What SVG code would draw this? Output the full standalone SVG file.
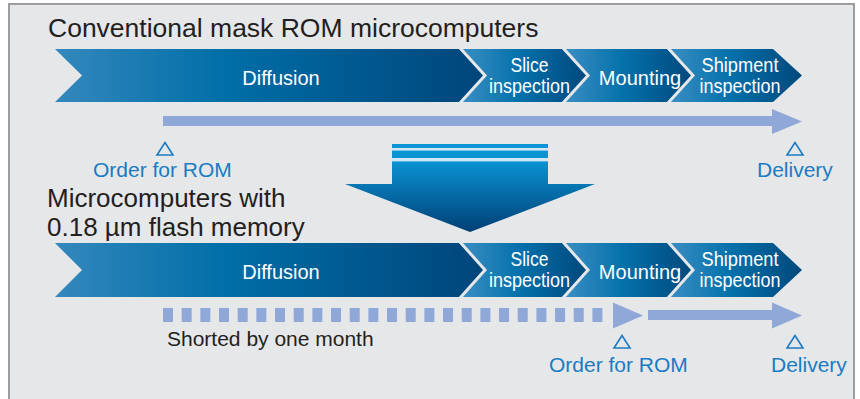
<svg xmlns="http://www.w3.org/2000/svg" width="860" height="399" viewBox="0 0 860 399">
  <defs>
    <linearGradient id="gDiff" x1="0" y1="0" x2="1" y2="0">
      <stop offset="0" stop-color="#3488bd"/>
      <stop offset="0.4" stop-color="#006ea7"/>
      <stop offset="1" stop-color="#00457a"/>
    </linearGradient>
    <linearGradient id="gStep" x1="0" y1="0" x2="1" y2="0">
      <stop offset="0" stop-color="#3a8ec2"/>
      <stop offset="0.45" stop-color="#0571ab"/>
      <stop offset="1" stop-color="#00487c"/>
    </linearGradient>
    <linearGradient id="gDown" x1="0" y1="144" x2="0" y2="232" gradientUnits="userSpaceOnUse">
      <stop offset="0" stop-color="#0a95d6"/>
      <stop offset="0.2" stop-color="#0a92d2"/>
      <stop offset="1" stop-color="#003f74"/>
    </linearGradient>
    <style>
      .title { font-family: "Liberation Sans", Arial, sans-serif; font-size: 26.5px; fill: #231f20; }
      .sub { font-family: "Liberation Sans", Arial, sans-serif; font-size: 26px; fill: #231f20; }
      .step { font-family: "Liberation Sans", Arial, sans-serif; font-size: 20px; fill: #ffffff; text-anchor: middle; }
      .blue { font-family: "Liberation Sans", Arial, sans-serif; font-size: 21px; fill: #1a7cc2; }
      .note { font-family: "Liberation Sans", Arial, sans-serif; font-size: 21px; fill: #231f20; }
      .sep { fill: none; stroke: #e6e7e9; stroke-width: 3; }
      .flow { fill: #8fa8d8; }
      .mark { fill: none; stroke: #1a7cc2; stroke-width: 1.6; stroke-linejoin: miter; }
    </style>
  </defs>

  <!-- panel -->
  <rect x="9" y="4" width="845" height="420" fill="#e6e7e9" stroke="#9d9d9f" stroke-width="2"/>

  <!-- conventional process -->
  <text class="title" x="48" y="37">Conventional mask ROM microcomputers</text>

  <g id="top-diffusion">
    <polygon points="55,49 462,49 485,75.5 462,102 55,102 82,75.5" fill="url(#gDiff)"/>
    <text class="step" x="281" y="85">Diffusion</text>
  </g>
  <g id="top-slice">
    <polygon points="462,49 565,49 588,75.5 565,102 462,102 485,75.5" fill="url(#gStep)"/>
    <text class="step" x="529.5" y="72" textLength="38" lengthAdjust="spacingAndGlyphs">Slice</text>
    <text class="step" x="529.5" y="92.5" textLength="81" lengthAdjust="spacingAndGlyphs">inspection</text>
  </g>
  <g id="top-mounting">
    <polygon points="565,49 670,49 693,75.5 670,102 565,102 588,75.5" fill="url(#gStep)"/>
    <text class="step" x="640" y="85">Mounting</text>
  </g>
  <g id="top-shipment">
    <polygon points="670,49 773,49 802,75.5 773,102 670,102 693,75.5" fill="url(#gStep)"/>
    <text class="step" x="740" y="72" textLength="77" lengthAdjust="spacingAndGlyphs">Shipment</text>
    <text class="step" x="740" y="92.5" textLength="81" lengthAdjust="spacingAndGlyphs">inspection</text>
  </g>
  <g id="top-separators">
    <polyline class="sep" points="460,48 485,75.5 460,103"/>
    <polyline class="sep" points="563,48 588,75.5 563,103"/>
    <polyline class="sep" points="668,48 693,75.5 668,103"/>
  </g>

  <!-- transition arrow -->
  <g id="down-arrow">
    <polygon points="392,144 548,144 548,184 595,184 470,232 345,184 392,184" fill="url(#gDown)"/>
    <rect x="392" y="148" width="156" height="2.6" fill="#cfe6f5"/>
    <rect x="392" y="158" width="156" height="3.4" fill="#cfe6f5"/>
  </g>

  <!-- flash memory process -->
  <text class="sub" x="47" y="206.5">Microcomputers with</text>
  <text class="sub" x="47" y="236">0.18 µm flash memory</text>

  <g id="bot-diffusion">
    <polygon points="55,243 462,243 485,270 462,297 55,297 82,270" fill="url(#gDiff)"/>
    <text class="step" x="281" y="279">Diffusion</text>
  </g>
  <g id="bot-slice">
    <polygon points="462,243 565,243 588,270 565,297 462,297 485,270" fill="url(#gStep)"/>
    <text class="step" x="529.5" y="266" textLength="38" lengthAdjust="spacingAndGlyphs">Slice</text>
    <text class="step" x="529.5" y="286.5" textLength="81" lengthAdjust="spacingAndGlyphs">inspection</text>
  </g>
  <g id="bot-mounting">
    <polygon points="565,243 670,243 693,270 670,297 565,297 588,270" fill="url(#gStep)"/>
    <text class="step" x="640" y="279">Mounting</text>
  </g>
  <g id="bot-shipment">
    <polygon points="670,243 773,243 802,270 773,297 670,297 693,270" fill="url(#gStep)"/>
    <text class="step" x="740" y="266" textLength="77" lengthAdjust="spacingAndGlyphs">Shipment</text>
    <text class="step" x="740" y="286.5" textLength="81" lengthAdjust="spacingAndGlyphs">inspection</text>
  </g>
  <g id="bot-separators">
    <polyline class="sep" points="460,242 485,270 460,298"/>
    <polyline class="sep" points="563,242 588,270 563,298"/>
    <polyline class="sep" points="668,242 693,270 668,298"/>
  </g>

  <!-- lead-time connectors -->
  <g id="connectors">
    <polygon class="flow" points="163,116 772,116 772,109 802,121.5 772,134 772,126 163,126"/>
    <line x1="163" y1="315" x2="603" y2="315" stroke="#8fa8d8" stroke-width="14" stroke-dasharray="10 8.67"/>
    <polygon class="flow" points="613,302.5 643,315.5 613,328.5"/>
    <polygon class="flow" points="648,310 772,310 772,302.5 802,315.5 772,328.5 772,320 648,320"/>
  </g>

  <!-- milestones -->
  <g id="order-top">
    <polygon class="mark" points="157,155 165,142.5 173,155"/>
    <text class="blue" x="93" y="177">Order for ROM</text>
  </g>
  <g id="delivery-top">
    <polygon class="mark" points="787,155 795,142.5 803,155"/>
    <text class="blue" x="757" y="177">Delivery</text>
  </g>
  <g id="order-bottom">
    <polygon class="mark" points="614,348 622,335.5 630,348"/>
    <text class="blue" x="549" y="371.5">Order for ROM</text>
  </g>
  <g id="delivery-bottom">
    <polygon class="mark" points="787,348 795,335.5 803,348"/>
    <text class="blue" x="771" y="371.5">Delivery</text>
  </g>

  <text class="note" x="167" y="346">Shorted by one month</text>
</svg>
